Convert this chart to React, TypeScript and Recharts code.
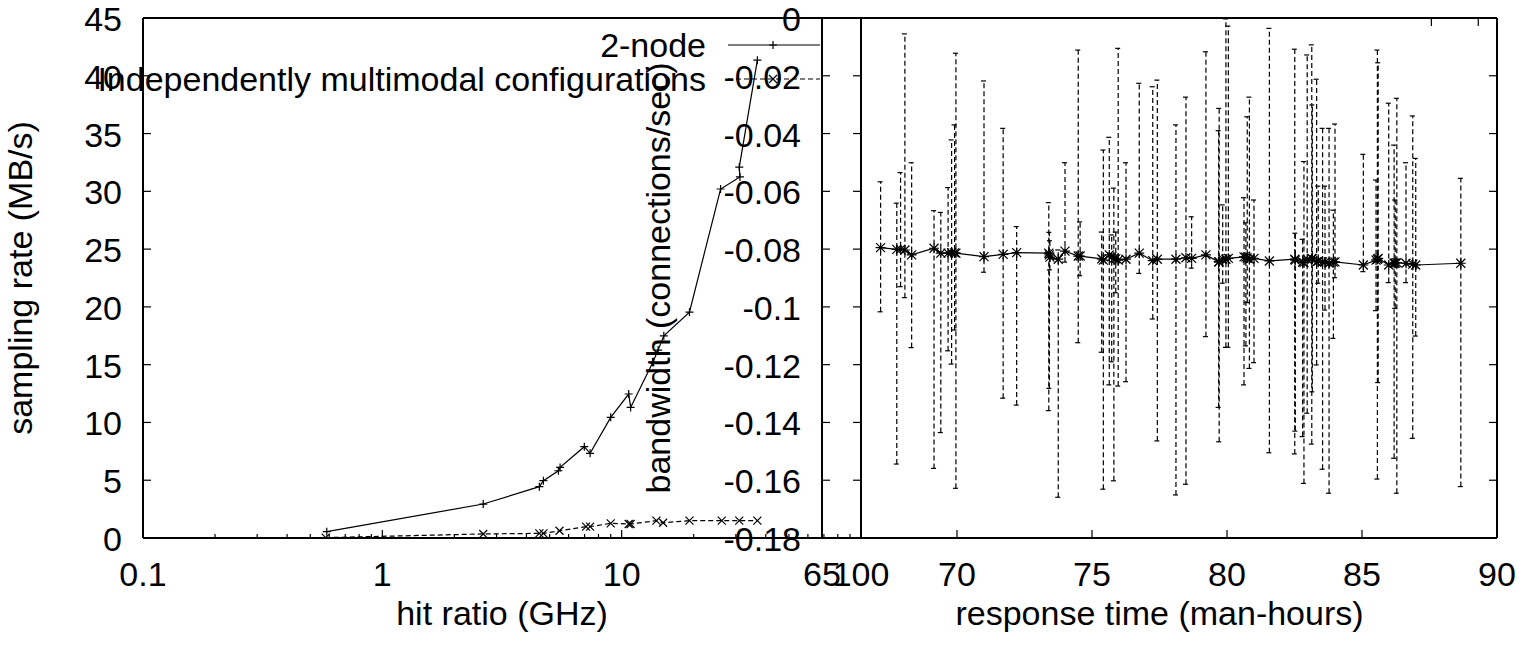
import { LineChart, Line, XAxis, YAxis, ErrorBar, Legend } from "recharts";

const W = 1522;
const H = 646;
const FONT = "'Liberation Sans', Arial, Helvetica, sans-serif";
const FS = 34;

// plot frames in page pixels
const LP = { x0: 143, x1: 861, y0: 18, y1: 538 };
const RP = { x0: 822, x1: 1497, y0: 18, y1: 538 };
// axis band sizes (reserved by recharts, subtracted from margins)
const AX_B = 40;
const AX_T = 10;
const AX_L = 40;
const AX_R = 10;

// left panel: hit ratio vs sampling rate
const nodeName = "2-node";
const nodeHit = [0.586, 2.64, 4.53, 4.71, 5.44, 5.53, 6.98, 7.38, 9.0, 10.7, 10.9, 13.5, 14.2, 15.0, 19.2, 25.9, 31.2, 31.0, 36.9];
const nodeRate = [0.55, 2.94, 4.44, 4.96, 5.82, 6.11, 7.9, 7.33, 10.44, 12.46, 11.3, 15.2, 16.26, 17.5, 19.55, 30.2, 31.25, 32.1, 41.35];

const multiName = "Independently multimodal configurations";
const multiHit = [0.58, 2.64, 4.53, 4.71, 5.5, 7.1, 7.38, 9.0, 10.7, 10.9, 13.97, 14.9, 19.2, 26.2, 31.0, 36.9];
const multiRate = [0.03, 0.35, 0.4, 0.4, 0.63, 0.98, 0.98, 1.27, 1.21, 1.21, 1.5, 1.32, 1.5, 1.5, 1.5, 1.5];

const hitMajor = [0.1, 1, 10, 100];
const hitMinor = [0.2, 0.3, 0.4, 0.5, 0.6, 0.7, 0.8, 0.9, 2, 3, 4, 5, 6, 7, 8, 9, 20, 30, 40, 50, 60, 70, 80, 90];
const rateTicks = [0, 5, 10, 15, 20, 25, 30, 35, 40, 45];

// right panel: response time vs bandwidth, with error bars
const respTime = [67.17, 67.77, 67.91, 68.07, 68.32, 69.15, 69.4, 69.67, 69.8, 69.91, 69.96, 71.0, 71.71, 72.21, 73.4, 73.42, 73.44, 73.75, 74.0, 74.49, 74.56, 75.36, 75.42, 75.64, 75.73, 75.81, 75.88, 75.97, 76.26, 76.75, 77.25, 77.42, 78.11, 78.48, 78.69, 79.22, 79.69, 79.71, 79.84, 79.96, 80.05, 80.63, 80.7, 80.75, 80.83, 81.0, 81.57, 82.51, 82.53, 82.8, 82.85, 82.97, 83.14, 83.16, 83.32, 83.38, 83.54, 83.63, 83.78, 83.94, 84.0, 85.05, 85.52, 85.57, 85.6, 85.99, 86.19, 86.23, 86.29, 86.63, 86.88, 86.99, 88.66];
const bandwidth = [-0.0795, -0.0801, -0.0801, -0.0803, -0.082, -0.0797, -0.0814, -0.0814, -0.0812, -0.0813, -0.0814, -0.0826, -0.0818, -0.0812, -0.0814, -0.082, -0.0828, -0.0835, -0.0807, -0.0824, -0.0824, -0.0834, -0.0838, -0.082, -0.0827, -0.0832, -0.0834, -0.0838, -0.0835, -0.0814, -0.084, -0.0835, -0.0835, -0.083, -0.0832, -0.082, -0.0844, -0.0844, -0.0834, -0.0835, -0.0832, -0.0827, -0.0828, -0.0831, -0.0835, -0.0832, -0.0841, -0.0835, -0.0838, -0.0845, -0.0847, -0.0835, -0.0832, -0.0834, -0.0844, -0.0841, -0.0844, -0.0845, -0.0849, -0.0845, -0.0844, -0.0855, -0.0838, -0.0835, -0.0832, -0.0855, -0.0849, -0.0848, -0.0847, -0.0849, -0.0852, -0.0855, -0.0849];
const bwHigh = [-0.0567, -0.0641, -0.0535, -0.0055, -0.0501, -0.0667, -0.0673, -0.0587, -0.0422, -0.037, -0.0122, -0.0218, -0.0382, -0.0722, -0.0639, -0.0742, -0.0771, -0.0803, -0.0501, -0.0111, -0.0706, -0.0741, -0.0457, -0.0413, -0.0751, -0.0589, -0.0741, -0.0105, -0.0501, -0.0226, -0.0238, -0.0215, -0.037, -0.0274, -0.0688, -0.0117, -0.039, -0.0313, -0.0647, -0.0003, -0.0028, -0.0622, -0.0709, -0.0342, -0.0274, -0.063, -0.0036, -0.0108, -0.0745, -0.0766, -0.0497, -0.0128, -0.0093, -0.0301, -0.0212, -0.0582, -0.0382, -0.0582, -0.0382, -0.0665, -0.0367, -0.0472, -0.0561, -0.0111, -0.0155, -0.0295, -0.044, -0.063, -0.0278, -0.0501, -0.0339, -0.0486, -0.0555];
const bwLow = [-0.1017, -0.1544, -0.093, -0.0968, -0.1141, -0.1559, -0.1435, -0.1152, -0.1198, -0.108, -0.1628, -0.088, -0.1316, -0.134, -0.1359, -0.1282, -0.0872, -0.1659, -0.0845, -0.1124, -0.0892, -0.1157, -0.1631, -0.127, -0.119, -0.1602, -0.0951, -0.1274, -0.1259, -0.0884, -0.1042, -0.1464, -0.1651, -0.1614, -0.0866, -0.1103, -0.1348, -0.1467, -0.0918, -0.114, -0.114, -0.127, -0.1135, -0.0985, -0.1213, -0.1193, -0.1505, -0.1509, -0.143, -0.1449, -0.1611, -0.1368, -0.1475, -0.1294, -0.1201, -0.0918, -0.1562, -0.1011, -0.1645, -0.1109, -0.0899, -0.0878, -0.1013, -0.1596, -0.1262, -0.0916, -0.1524, -0.1005, -0.1645, -0.0916, -0.1455, -0.1101, -0.1622];

const respTicks = [65, 70, 75, 80, 85, 90];
const bwTicks = [0, -0.02, -0.04, -0.06, -0.08, -0.1, -0.12, -0.14, -0.16, -0.18];

const nodeData = nodeHit.map((x, i) => ({ x, y: nodeRate[i] }));
const multiData = multiHit.map((x, i) => ({ x, y: multiRate[i] }));
const respData = respTime.map((t, i) => ({
  t,
  bw: bandwidth[i],
  err: [bandwidth[i] - bwLow[i], bwHigh[i] - bandwidth[i]],
}));

const txt = { fontFamily: FONT, fontSize: FS, fill: "#000" };
const frame = { stroke: "#000", strokeWidth: 2 };

function AxisTick(props: any) {
  const { x = 0, y = 0, payload, side, majors, fmt } = props;
  const v = payload ? payload.value : 0;
  const major = !majors || majors.includes(v);
  const len = major ? 8 : 4;
  const label = fmt ? fmt(v) : String(v);
  const ln = { stroke: "#000", strokeWidth: 1.2 };
  if (side === "bottom") {
    return (
      <g>
        <line x1={x} x2={x} y1={y} y2={y - len} {...ln} />
        {major && <text x={x} y={y + 48} textAnchor="middle" {...txt}>{label}</text>}
      </g>
    );
  }
  if (side === "top") return <line x1={x} x2={x} y1={y} y2={y + len} {...ln} />;
  if (side === "left") {
    return (
      <g>
        <line x1={x} x2={x + len} y1={y} y2={y} {...ln} />
        {major && <text x={x - 21} y={y + 13} textAnchor="end" {...txt}>{label}</text>}
      </g>
    );
  }
  return <line x1={x} x2={x - len} y1={y} y2={y} {...ln} />;
}

const plus = (cx: number, cy: number, r = 4) => `M${cx - r},${cy}h${2 * r}M${cx},${cy - r}v${2 * r}`;
const cross = (cx: number, cy: number, r = 4) => `M${cx - r},${cy - r}l${2 * r},${2 * r}M${cx - r},${cy + r}l${2 * r},${-2 * r}`;

const PlusDot = (p: any) => <path key={p.index} d={plus(p.cx, p.cy)} stroke="#000" strokeWidth={1.2} fill="none" />;
const CrossDot = (p: any) => <path key={p.index} d={cross(p.cx, p.cy)} stroke="#000" strokeWidth={1.2} fill="none" />;
const StarDot = (p: any) => (
  <path key={p.index} d={plus(p.cx, p.cy, 5) + cross(p.cx, p.cy, 4.5)} stroke="#000" strokeWidth={1.2} fill="none" />
);

const keyRows = [
  { name: nodeName, dash: undefined as string | undefined, mark: plus },
  { name: multiName, dash: "5 3", mark: cross },
];

function LeftKey() {
  return (
    <svg width={W} height={110} style={{ display: "block" }}>
      {keyRows.map((r, i) => {
        const y = 45 + i * 34;
        return (
          <g key={r.name}>
            <text x={706} y={y + 12} textAnchor="end" {...txt}>{r.name}</text>
            <line x1={728} x2={820} y1={y} y2={y} stroke="#000" strokeWidth={1.2} strokeDasharray={r.dash} />
            <path d={r.mark(773, y)} stroke="#000" strokeWidth={1.2} fill="none" />
          </g>
        );
      })}
    </svg>
  );
}

const fmtBw = (v: number) => String(parseFloat(v.toFixed(2)));

const marginFor = (P: { x0: number; x1: number; y0: number; y1: number }) => ({
  top: P.y0 - AX_T,
  right: W - P.x1 - AX_R,
  bottom: H - P.y1 - AX_B,
  left: P.x0 - AX_L,
});

function App() {
  return (
    <div style={{ position: "absolute", left: 0, top: 0, width: W, height: H, background: "#fff" }}>
      <div style={{ position: "absolute", left: 0, top: 0 }}>
        <LineChart width={W} height={H} margin={marginFor(LP)}>
          <XAxis
            xAxisId="b" dataKey="x" type="number" scale="log" domain={[0.1, 100]} allowDataOverflow
            ticks={[...hitMajor, ...hitMinor]} interval={0} height={AX_B} tickSize={0} tickMargin={0}
            tickLine={false} axisLine={frame} tick={<AxisTick side="bottom" majors={hitMajor} />}
            label={{ value: "hit ratio (GHz)", content: (p: any) => <text x={(LP.x0 + LP.x1) / 2} y={625} textAnchor="middle" {...txt}>{p.value}</text> }}
          />
          <XAxis
            xAxisId="t" orientation="top" type="number" scale="log" domain={[0.1, 100]} allowDataOverflow
            ticks={[...hitMajor, ...hitMinor]} interval={0} height={AX_T} tickSize={0} tickMargin={0}
            tickLine={false} axisLine={frame} tick={<AxisTick side="top" majors={hitMajor} />}
          />
          <YAxis
            yAxisId="l" type="number" domain={[0, 45]} allowDataOverflow ticks={rateTicks} interval={0}
            width={AX_L} tickSize={0} tickMargin={0} tickLine={false} axisLine={frame} tick={<AxisTick side="left" />}
            label={{
              value: "sampling rate (MB/s)",
              content: (p: any) => (
                <text transform={`translate(32, ${(LP.y0 + LP.y1) / 2}) rotate(-90)`} textAnchor="middle" {...txt}>{p.value}</text>
              ),
            }}
          />
          <YAxis
            yAxisId="r" orientation="right" type="number" domain={[0, 45]} allowDataOverflow ticks={rateTicks} interval={0}
            width={AX_R} tickSize={0} tickMargin={0} tickLine={false} axisLine={frame} tick={<AxisTick side="right" />}
          />
          <Line
            xAxisId="b" yAxisId="l" data={nodeData} dataKey="y" name={nodeName} stroke="#000" strokeWidth={1.2}
            dot={PlusDot} activeDot={false} isAnimationActive={false}
          />
          <Line
            xAxisId="b" yAxisId="l" data={multiData} dataKey="y" name={multiName} stroke="#000" strokeWidth={1.2}
            strokeDasharray="5 3" dot={CrossDot} activeDot={false} isAnimationActive={false}
          />
          <Legend
            layout="horizontal" verticalAlign="middle" align="center"
            wrapperStyle={{ position: "absolute", left: 0, top: 0, width: W, height: 110 }}
            content={() => <LeftKey />}
          />
        </LineChart>
      </div>
      <div style={{ position: "absolute", left: 0, top: 0 }}>
        <LineChart width={W} height={H} data={respData} margin={marginFor(RP)}>
          <XAxis
            xAxisId="b" dataKey="t" type="number" domain={[65, 90]} allowDataOverflow ticks={respTicks} interval={0}
            height={AX_B} tickSize={0} tickMargin={0} tickLine={false} axisLine={frame} tick={<AxisTick side="bottom" />}
            label={{ value: "response time (man-hours)", content: (p: any) => <text x={(RP.x0 + RP.x1) / 2} y={625} textAnchor="middle" {...txt}>{p.value}</text> }}
          />
          <XAxis
            xAxisId="t" orientation="top" type="number" domain={[65, 90]} allowDataOverflow ticks={respTicks} interval={0}
            height={AX_T} tickSize={0} tickMargin={0} tickLine={false} axisLine={frame} tick={<AxisTick side="top" />}
          />
          <YAxis
            yAxisId="l" type="number" domain={[-0.18, 0]} allowDataOverflow ticks={bwTicks} interval={0}
            width={AX_L} tickSize={0} tickMargin={0} tickLine={false} axisLine={frame} tick={<AxisTick side="left" fmt={fmtBw} />}
            label={{
              value: "bandwidth (connections/sec)",
              content: (p: any) => (
                <text transform={`translate(670, ${(RP.y0 + RP.y1) / 2}) rotate(-90)`} textAnchor="middle" {...txt}>{p.value}</text>
              ),
            }}
          />
          <YAxis
            yAxisId="r" orientation="right" type="number" domain={[-0.18, 0]} allowDataOverflow ticks={bwTicks} interval={0}
            width={AX_R} tickSize={0} tickMargin={0} tickLine={false} axisLine={frame} tick={<AxisTick side="right" />}
          />
          <Line
            xAxisId="b" yAxisId="l" dataKey="bw" stroke="#000" strokeWidth={1.2} dot={StarDot} activeDot={false}
            isAnimationActive={false}
          >
            <ErrorBar dataKey="err" direction="y" width={3} stroke="#000" strokeWidth={1.2} strokeDasharray="5 3" isAnimationActive={false} />
          </Line>
        </LineChart>
      </div>
    </div>
  );
}

export default App;
